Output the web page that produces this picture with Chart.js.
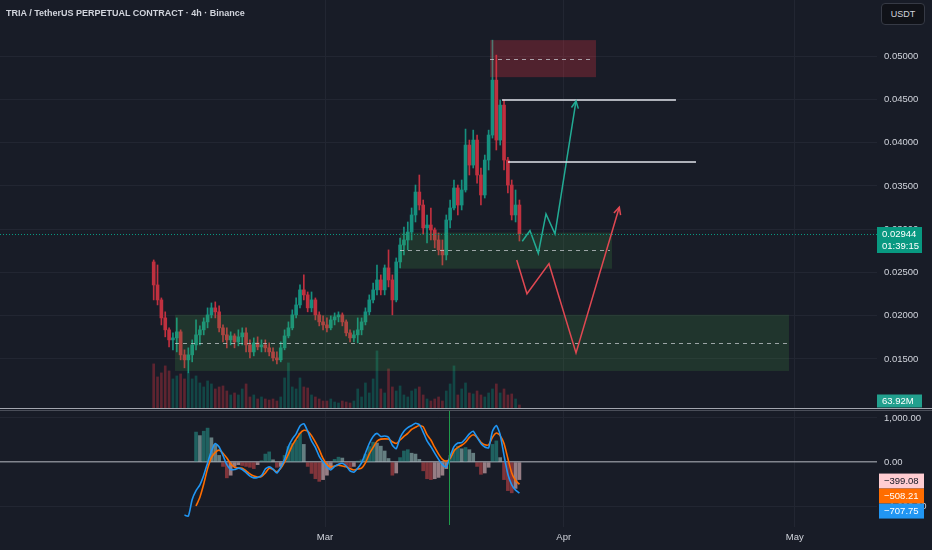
<!DOCTYPE html>
<html>
<head>
<meta charset="utf-8">
<script src="https://cdn.jsdelivr.net/npm/chart.js@4.4.1/dist/chart.umd.min.js"></script>
<style>
  html, body { margin: 0; padding: 0; background: #181c27; }
  #wrap { position: relative; width: 932px; height: 550px; overflow: hidden; background: #181c27; }
  #priceCanvas { position: absolute; left: 0; top: 0; }
  #oscCanvas { position: absolute; left: 0; top: 411px; }
  .sep { position: absolute; left: 0; width: 932px; height: 1px; }
  #title { position: absolute; left: 6px; top: 8px; color: #d1d4dc; font: bold 9px "Liberation Sans", Arial, sans-serif; white-space: nowrap; }
  #unit { position: absolute; left: 881px; top: 3px; width: 42px; height: 20px; border: 1px solid #363a45; border-radius: 4px;
          background: #101218; color: #d1d4dc; font: 9px "Liberation Sans", Arial, sans-serif; line-height: 20px; text-align: center; }
</style>
</head>
<body>
<div id="wrap">
  <canvas id="priceCanvas" width="932" height="409"></canvas>
  <div class="sep" style="top:408px;background:#a3a6af"></div>
  <div class="sep" style="top:410px;background:#4a4e59"></div>
  <canvas id="oscCanvas" width="932" height="139"></canvas>
  <div id="title">TRIA / TetherUS PERPETUAL CONTRACT · 4h · Binance</div>
  <div id="unit">USDT</div>
</div>
<script>
// 12h candles, days counted from Mar 1
const startDay = -22.5;          // first candle opens Feb 6, 12:00
const firstOpen = 0.02621;

const closes = [
  0.02355, 0.02182, 0.01974, 0.01836, 0.01720, 0.01743, 0.01813, 0.01547, 0.01489, 0.01547,
  0.01662, 0.01778, 0.01836, 0.01928, 0.02009, 0.02090, 0.02044, 0.01859, 0.01778, 0.01720,
  0.01766, 0.01697, 0.01755, 0.01801, 0.01662, 0.01581, 0.01685, 0.01639, 0.01662, 0.01628,
  0.01581, 0.01512, 0.01489, 0.01628, 0.01766, 0.01859, 0.02009, 0.02124, 0.02298, 0.02240,
  0.02090, 0.02182, 0.02009, 0.01928, 0.01893, 0.01859, 0.01951, 0.01986, 0.02009, 0.01928,
  0.01801, 0.01743, 0.01778, 0.01836, 0.01928, 0.02044, 0.02182, 0.02298, 0.02413, 0.02298,
  0.02552, 0.02413, 0.02182, 0.02621, 0.02817, 0.02875, 0.02967, 0.03164, 0.03429, 0.03279,
  0.03014, 0.03048, 0.02991, 0.02875, 0.02760, 0.02702, 0.03106, 0.03245, 0.03476, 0.03279,
  0.03453, 0.03972, 0.03741, 0.04030, 0.03626, 0.03395, 0.03799, 0.04088, 0.04723, 0.04030,
  0.04434, 0.03799, 0.03510, 0.03164, 0.03279, 0.02944
];
const highs = [
  0.02644, 0.02586, 0.02205, 0.02044, 0.01859, 0.01801, 0.01974, 0.01836, 0.01605, 0.01628,
  0.01720, 0.01951, 0.01882, 0.01974, 0.02090, 0.02147, 0.02159, 0.02113, 0.01893, 0.01859,
  0.01813, 0.01790, 0.01836, 0.01859, 0.01859, 0.01720, 0.01743, 0.01755, 0.01720, 0.01720,
  0.01685, 0.01628, 0.01581, 0.01697, 0.01836, 0.01928, 0.02067, 0.02205, 0.02355, 0.02471,
  0.02274, 0.02274, 0.02205, 0.02044, 0.01997, 0.01974, 0.01997, 0.02032, 0.02044, 0.02032,
  0.01951, 0.01836, 0.01824, 0.01974, 0.01974, 0.02090, 0.02240, 0.02378, 0.02586, 0.02471,
  0.02586, 0.02760, 0.02471, 0.02667, 0.02898, 0.03025, 0.03083, 0.03245, 0.03510, 0.03626,
  0.03337, 0.03164, 0.03245, 0.03014, 0.02956, 0.02875, 0.03164, 0.03337, 0.03568, 0.03510,
  0.03568, 0.04157, 0.04030, 0.04145, 0.04088, 0.03707, 0.03857, 0.04145, 0.05185, 0.05012,
  0.04492, 0.04492, 0.03830, 0.03568, 0.03453, 0.03337
];
const lows = [
  0.02182, 0.02124, 0.01893, 0.01755, 0.01639, 0.01605, 0.01581, 0.01489, 0.01397, 0.01339,
  0.01466, 0.01605, 0.01662, 0.01778, 0.01859, 0.01974, 0.01974, 0.01813, 0.01697, 0.01628,
  0.01662, 0.01628, 0.01651, 0.01662, 0.01581, 0.01512, 0.01535, 0.01605, 0.01581, 0.01581,
  0.01535, 0.01477, 0.01443, 0.01466, 0.01605, 0.01743, 0.01836, 0.01974, 0.02090, 0.02182,
  0.02044, 0.02044, 0.01951, 0.01882, 0.01836, 0.01813, 0.01836, 0.01893, 0.01928, 0.01882,
  0.01766, 0.01697, 0.01697, 0.01685, 0.01778, 0.01893, 0.02009, 0.02147, 0.02240, 0.02240,
  0.02240, 0.02332, 0.02009, 0.02159, 0.02552, 0.02702, 0.02760, 0.02875, 0.03083, 0.03222,
  0.02944, 0.02840, 0.02875, 0.02783, 0.02702, 0.02586, 0.02644, 0.03014, 0.03222, 0.03164,
  0.03222, 0.03429, 0.03626, 0.03707, 0.03533, 0.03279, 0.03360, 0.03684, 0.04053, 0.03915,
  0.03972, 0.03684, 0.03418, 0.03106, 0.03083, 0.02863
];
// volume, millions
const volumes = [
  720, 512, 576, 688, 608, 480, 528, 560, 480, 576,
  480, 528, 416, 352, 448, 400, 320, 352, 368, 288,
  224, 256, 224, 320, 400, 192, 224, 160, 192, 160,
  144, 160, 128, 192, 496, 736, 352, 320, 496, 352,
  336, 224, 192, 160, 128, 128, 160, 112, 96, 128,
  112, 96, 128, 320, 192, 416, 256, 480, 928, 320,
  256, 640, 352, 288, 368, 224, 192, 288, 320, 352,
  224, 160, 128, 160, 192, 128, 288, 400, 688, 224,
  320, 416, 256, 240, 288, 224, 192, 256, 320, 400,
  256, 320, 224, 240, 160, 63.92
];
// oscillator pane
const macdLine = [
  null, null, null, null, null, null, null, null, -1205, -1230,
  -850, -650, -520, -300, -20, 250, 420, 340, 150, -60,
  -170, -170, -140, -170, -240, -320, -360, -350, -310, -160,
  -110, -160, -250, -120, 60, 350, 520, 640, 820, 870,
  700, 480, 330, 130, 0, -110, -180, -100, -50, -30,
  -90, -200, -230, -140, -20, 200, 420, 580, 650, 580,
  590, 560, 380, 300, 550, 700, 780, 830, 880, 850,
  680, 480, 350, 200, 60, -60, -120, 130, 350, 430,
  440, 530, 640, 700, 560, 420, 340, 320, 700, 830,
  620, 150, -280, -520, -640, -707.75
];
const signalLine = [
  null, null, null, null, null, null, null, null, null, null,
  null, -1000, -800, -500, -150, 100, 220, 270, 200, 90,
  -40, -120, -140, -140, -200, -270, -320, -340, -330, -250,
  -140, -170, -220, -140, 0, 180, 380, 520, 650, 720,
  700, 600, 450, 280, 80, -60, -110, -90, -70, -90,
  -110, -150, -180, -160, -140, -20, 180, 330, 470, 520,
  525, 520, 460, 420, 500, 580, 650, 740, 790, 830,
  800, 620, 500, 330, 180, 60, 20, 80, 250, 330,
  380, 450, 560, 620, 560, 450, 390, 390, 560, 660,
  600, 420, 80, -250, -420, -508.21
];
const histValues = [
  null, null, null, null, null, null, null, null, null, null,
  null, 680, 600, 700, 770, 550, 400, 150, -100, -360,
  -300, -100, -60, -80, -100, -120, -150, -60, 30, 180,
  230, 50, -120, -100, 150, 350, 420, 500, 650, 400,
  -100, -260, -380, -440, -400, -300, -150, 60, 110, 90,
  -80, -120, -100, 20, 50, 180, 350, 450, 430, 360,
  250, 80, -300, -250, 100, 250, 280, 200, 180, 60,
  -200, -380, -400, -380, -350, -300, -150, 150, 300, 360,
  300, 330, 280, 200, -100, -280, -250, -120, 400, 480,
  100, -400, -650, -700, -600, -399.08
];

// drawings on the price pane (days from Mar 1, prices in USDT)
const zoneStart  = [21.43, 9.74, -19.48];
const zoneEnd    = [35.19, 37.27, 60.26];
const zoneHigh   = [0.05185, 0.02960, 0.02010];
const zoneLow    = [0.04757, 0.02543, 0.01361];
const zoneMid    = [0.04965, 0.02763, 0.01686];
const zoneKind   = ['supply', 'demand', 'demand'];
const targetStart = [22.99, 23.77];
const targetEnd   = [45.58, 48.18];
const targetPrice = [0.04490, 0.03772];
const bullPathDays   = [25.62, 26.62, 27.70, 28.70, 29.87, 32.60];
const bullPathPrices = [0.02860, 0.02984, 0.02720, 0.03177, 0.02945, 0.04482];
const bearPathDays   = [24.90, 26.23, 29.09, 32.60, 38.22];
const bearPathPrices = [0.02644, 0.02253, 0.02601, 0.01570, 0.03254];
const markerDay = 16.1;
const countdown = '01:39:15';

const priceTicks = [0.015, 0.02, 0.025, 0.03, 0.035, 0.04, 0.045, 0.05];
const oscTicks = [-1000, 0, 1000];
const monthDays = [0, 31, 61];
const monthLabels = ['Mar', 'Apr', 'May'];

const GRID = '#222632', TEXT = '#d1d4dc';
const UP = '#16907f', DOWN = '#c0303f';
const FONT = '"Liberation Sans", Arial, sans-serif';
const X_MIN = -42.21, X_MAX = 71.69;

const opens = closes.map((c, i) => i === 0 ? firstOpen : closes[i - 1]);
const candleDays = closes.map((c, i) => startDay + 0.25 + 0.5 * i);
const isUp = closes.map((c, i) => c >= opens[i]);

function fmtOsc(v) {
  return v.toLocaleString('en-US', { minimumFractionDigits: 2, maximumFractionDigits: 2 }).replace('-', '\u2212');
}

function tag(ctx, text, x, yMid, h, bg, fg) {
  ctx.fillStyle = bg;
  ctx.fillRect(x, yMid - h / 2, 45, h);
  ctx.fillStyle = fg;
  ctx.textAlign = 'left';
  ctx.textBaseline = 'middle';
  ctx.fillText(text, x + 5, yMid + 0.5);
}

function arrowHead(ctx, meta, color) {
  const pts = meta.data;
  const a = pts[pts.length - 2], b = pts[pts.length - 1];
  const ang = Math.atan2(b.y - a.y, b.x - a.x);
  ctx.strokeStyle = color;
  ctx.lineWidth = 1.5;
  ctx.setLineDash([]);
  ctx.beginPath();
  ctx.moveTo(b.x - 8 * Math.cos(ang - 0.45), b.y - 8 * Math.sin(ang - 0.45));
  ctx.lineTo(b.x, b.y);
  ctx.lineTo(b.x - 8 * Math.cos(ang + 0.45), b.y - 8 * Math.sin(ang + 0.45));
  ctx.stroke();
}

const pricePanelPlugin = {
  id: 'pricePanel',
  afterDatasetDraw(chart, args) {
    if (args.index !== 1) return; // zones sit over the candles, under the paths
    const { ctx, scales: { x, y } } = chart;
    ctx.save();
    zoneStart.forEach((d0, k) => {
      const x0 = x.getPixelForValue(d0), x1 = x.getPixelForValue(zoneEnd[k]);
      const y0 = y.getPixelForValue(zoneHigh[k]), y1 = y.getPixelForValue(zoneLow[k]);
      ctx.fillStyle = zoneKind[k] === 'supply' ? 'rgba(242,54,69,0.26)' : 'rgba(76,175,80,0.17)';
      ctx.fillRect(x0, y0, x1 - x0, y1 - y0);
      const ym = Math.round(y.getPixelForValue(zoneMid[k])) + 0.5;
      ctx.strokeStyle = 'rgba(209,212,220,0.7)';
      ctx.lineWidth = 1;
      ctx.setLineDash([4, 4]);
      ctx.beginPath();
      ctx.moveTo(x0, ym);
      ctx.lineTo(x1 - 2, ym);
      ctx.stroke();
    });
    ctx.restore();
  },
  afterDatasetsDraw(chart) {
    const { ctx, chartArea, scales: { x, y } } = chart;
    ctx.save();
    ctx.setLineDash([]);
    targetPrice.forEach((p, k) => {
      const yy = Math.round(y.getPixelForValue(p));
      ctx.strokeStyle = '#e0e3eb';
      ctx.lineWidth = 1.5;
      ctx.beginPath();
      ctx.moveTo(x.getPixelForValue(targetStart[k]), yy);
      ctx.lineTo(x.getPixelForValue(targetEnd[k]), yy);
      ctx.stroke();
    });
    arrowHead(ctx, chart.getDatasetMeta(3), '#22ab94');
    arrowHead(ctx, chart.getDatasetMeta(4), '#e04852');
    const last = closes[closes.length - 1];
    const yl = Math.round(y.getPixelForValue(last)) + 0.5;
    ctx.strokeStyle = '#089981';
    ctx.lineWidth = 1;
    ctx.setLineDash([1, 2]);
    ctx.beginPath();
    ctx.moveTo(chartArea.left, yl);
    ctx.lineTo(chartArea.right, yl);
    ctx.stroke();
    ctx.restore();
  },
  afterDraw(chart) {
    const { ctx, chartArea, scales: { y } } = chart;
    ctx.save();
    ctx.font = '9.5px ' + FONT;
    const last = closes[closes.length - 1];
    const yl = y.getPixelForValue(last);
    ctx.fillStyle = '#089981';
    ctx.fillRect(chartArea.right, yl - 7, 45, 26);
    ctx.fillStyle = '#ffffff';
    ctx.textAlign = 'left';
    ctx.textBaseline = 'middle';
    ctx.fillText(last.toFixed(5), chartArea.right + 5, yl + 0.5);
    ctx.fillText(countdown, chartArea.right + 5, yl + 12.5);
    const vol = volumes[volumes.length - 1];
    tag(ctx, vol.toFixed(2) + 'M', chartArea.right, chartArea.bottom - 8, 13, '#22a08e', '#ffffff');
    ctx.restore();
  }
};

new Chart(document.getElementById('priceCanvas'), {
  type: 'bar',
  data: {
    datasets: [
      {
        label: 'Wicks', yAxisID: 'y', grouped: false, order: 2, barThickness: 1,
        data: candleDays.map((d, i) => ({ x: d, y: [lows[i], highs[i]] })),
        backgroundColor: isUp.map(u => u ? UP : DOWN)
      },
      {
        label: 'Bodies', yAxisID: 'y', grouped: false, order: 1, barThickness: 3, minBarLength: 1,
        data: candleDays.map((d, i) => ({ x: d, y: [opens[i], closes[i]] })),
        backgroundColor: isUp.map(u => u ? UP : DOWN)
      },
      {
        label: 'Volume', yAxisID: 'yv', grouped: false, order: 3, barThickness: 2,
        data: candleDays.map((d, i) => ({ x: d, y: volumes[i] })),
        backgroundColor: isUp.map(u => u ? 'rgba(8,153,129,0.35)' : 'rgba(242,54,69,0.32)')
      },
      {
        type: 'line', label: 'Bull path', yAxisID: 'y', order: 0,
        data: bullPathDays.map((d, i) => ({ x: d, y: bullPathPrices[i] })),
        borderColor: '#22ab94', borderWidth: 1.5, pointRadius: 0, tension: 0
      },
      {
        type: 'line', label: 'Bear path', yAxisID: 'y', order: 0,
        data: bearPathDays.map((d, i) => ({ x: d, y: bearPathPrices[i] })),
        borderColor: '#e04852', borderWidth: 1.5, pointRadius: 0, tension: 0
      }
    ]
  },
  options: {
    responsive: false,
    animation: false,
    layout: { padding: 0 },
    plugins: { legend: { display: false }, tooltip: { enabled: false } },
    scales: {
      x: {
        type: 'linear', min: X_MIN, max: X_MAX, offset: false,
        afterBuildTicks: a => { a.ticks = monthDays.map(v => ({ value: v })); },
        ticks: { display: false },
        grid: { color: GRID, drawTicks: false, offset: false },
        border: { display: false },
        afterFit: a => { a.height = 0; a.paddingLeft = 0; a.paddingRight = 0; }
      },
      y: {
        position: 'right', min: 0.00921, max: 0.05649,
        afterBuildTicks: a => { a.ticks = priceTicks.map(v => ({ value: v })); },
        ticks: { color: TEXT, font: { family: FONT, size: 9.5 }, padding: 7, callback: v => v.toFixed(5) },
        grid: { color: GRID, drawTicks: false },
        border: { display: false },
        afterFit: a => { a.width = 55; a.paddingTop = 0; a.paddingBottom = 0; }
      },
      yv: { display: false, min: 0, max: 6528 }
    }
  },
  plugins: [pricePanelPlugin]
});

const histColors = histValues.map((v, i) => {
  const prev = i > 0 && histValues[i - 1] != null ? histValues[i - 1] : 0;
  if (v == null) return 'transparent';
  if (v >= 0) return v >= prev ? 'rgba(38,166,154,0.5)' : 'rgba(178,223,219,0.5)';
  return v < prev ? 'rgba(255,82,82,0.45)' : 'rgba(255,205,210,0.55)';
});

const oscPanelPlugin = {
  id: 'oscPanel',
  afterDatasetsDraw(chart) {
    const { ctx, chartArea, scales: { x } } = chart;
    const xm = Math.round(x.getPixelForValue(markerDay)) + 0.5;
    ctx.save();
    ctx.strokeStyle = '#1f9a4a';
    ctx.lineWidth = 1;
    ctx.beginPath();
    ctx.moveTo(xm, chartArea.top);
    ctx.lineTo(xm, chartArea.bottom - 2);
    ctx.stroke();
    ctx.restore();
  },
  afterDraw(chart) {
    const { ctx, chartArea, scales: { yo } } = chart;
    ctx.save();
    ctx.font = '9.5px ' + FONT;
    const h = 15;
    let yy = yo.getPixelForValue(histValues[histValues.length - 1]) + 1.5;
    tag(ctx, fmtOsc(histValues[histValues.length - 1]), chartArea.right + 2, yy, h, '#ffcdd2', '#131722');
    yy += h;
    tag(ctx, fmtOsc(signalLine[signalLine.length - 1]), chartArea.right + 2, yy, h, '#ff6d00', '#ffffff');
    yy += h;
    tag(ctx, fmtOsc(macdLine[macdLine.length - 1]), chartArea.right + 2, yy, h, '#2196f3', '#ffffff');
    ctx.restore();
  }
};

new Chart(document.getElementById('oscCanvas'), {
  type: 'bar',
  data: {
    datasets: [
      {
        type: 'line', label: 'MACD', yAxisID: 'yo', order: 0,
        data: candleDays.map((d, i) => ({ x: d, y: macdLine[i] })),
        borderColor: '#2196f3', borderWidth: 1.6, pointRadius: 0, tension: 0.2
      },
      {
        type: 'line', label: 'Signal', yAxisID: 'yo', order: 1,
        data: candleDays.map((d, i) => ({ x: d, y: signalLine[i] })),
        borderColor: '#ff6d00', borderWidth: 1.6, pointRadius: 0, tension: 0.2
      },
      {
        label: 'Histogram', yAxisID: 'yo', grouped: false, order: 2, barThickness: 3,
        data: candleDays.map((d, i) => ({ x: d, y: histValues[i] })),
        backgroundColor: histColors
      }
    ]
  },
  options: {
    responsive: false,
    animation: false,
    layout: { padding: 0 },
    plugins: { legend: { display: false }, tooltip: { enabled: false } },
    scales: {
      x: {
        type: 'linear', min: X_MIN, max: X_MAX, offset: false,
        afterBuildTicks: a => { a.ticks = monthDays.map(v => ({ value: v })); },
        ticks: {
          color: TEXT, font: { family: FONT, size: 9.5 }, padding: 5, autoSkip: false, maxRotation: 0,
          callback: v => monthLabels[monthDays.indexOf(v)]
        },
        grid: { color: GRID, drawTicks: false, offset: false },
        border: { display: false },
        afterFit: a => { a.height = 23; a.paddingLeft = 0; a.paddingRight = 0; }
      },
      yo: {
        position: 'right', min: -1477, max: 1159,
        afterBuildTicks: a => { a.ticks = oscTicks.map(v => ({ value: v })); },
        ticks: { color: TEXT, font: { family: FONT, size: 9.5 }, padding: 7, callback: v => fmtOsc(v) },
        grid: {
          color: c => c.tick && c.tick.value === 0 ? 'rgba(149,152,161,0.85)' : GRID,
          lineWidth: c => c.tick && c.tick.value === 0 ? 1.5 : 1,
          drawTicks: false
        },
        border: { display: false },
        afterFit: a => { a.width = 55; a.paddingTop = 0; a.paddingBottom = 0; }
      }
    }
  },
  plugins: [oscPanelPlugin]
});
</script>
</body>
</html>
